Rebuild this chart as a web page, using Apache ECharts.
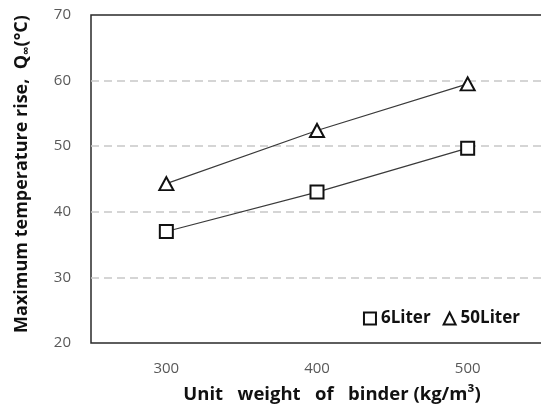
<!DOCTYPE html>
<html>
<head>
<meta charset="utf-8">
<script src="https://cdn.jsdelivr.net/npm/echarts@6/dist/echarts.min.js"></script>
<style>
  html, body { margin: 0; padding: 0; background: #fff; }
  #chart { width: 541px; height: 414px; }
</style>
</head>
<body>
<div id="chart"></div>
<script>
// Unit weight of binder (kg/m3)
const binder = [300, 400, 500];
// Maximum temperature rise (°C) for each specimen volume
const rise6Liter = [37.0, 43.0, 49.7];
const rise50Liter = [44.3, 52.4, 59.5];
const yTicks = [20, 30, 40, 50, 60, 70];

const font = '"Open Sans", "Noto Sans", sans-serif';

const chart = echarts.init(document.getElementById('chart'));

const markerStyle = {
  color: '#ffffff',
  borderColor: '#111111',
  borderWidth: 2
};

chart.setOption({
  animation: false,
  backgroundColor: '#ffffff',
  grid: {
    left: 91,
    top: 15,
    right: -2,
    bottom: 71,
    outerBoundsMode: 'none',
    show: true,
    borderColor: '#2a2a2a',
    borderWidth: 1.5
  },
  legend: {
    right: 16,
    top: 305,
    itemWidth: 12,
    itemHeight: 12,
    itemGap: 12,
    textStyle: { fontFamily: font, fontSize: 17, fontWeight: 'bold', color: '#111' },
    data: [
      { name: '6Liter', icon: 'rect' },
      { name: '50Liter', icon: 'triangle' }
    ]
  },
  xAxis: {
    type: 'value',
    min: 250,
    max: 550,
    interval: 50,
    name: 'Unit   weight   of   binder (kg/m³)',
    nameLocation: 'middle',
    nameGap: 42,
    nameTextStyle: {
      fontFamily: font, fontSize: 18.5, fontWeight: 'bold', color: '#111',
      padding: [0, 0, 0, 30]
    },
    axisLine: { show: false },
    axisTick: { show: false },
    splitLine: { show: false },
    axisLabel: {
      margin: 18,
      fontFamily: font, fontSize: 15, color: '#595959',
      formatter: v => (binder.includes(v) ? String(v) : '')
    }
  },
  yAxis: {
    type: 'value',
    min: yTicks[0],
    max: yTicks[yTicks.length - 1],
    interval: 10,
    name: '{a|Maximum temperature rise,  Q}{sub|∞}{a|(°C)}',
    nameLocation: 'middle',
    nameGap: 58,
    nameTextStyle: {
      padding: [0, 0, 0, 10],
      rich: {
        a: { fontFamily: font, fontSize: 18, fontWeight: 'bold', color: '#111', lineHeight: 22 },
        sub: { fontFamily: font, fontSize: 12, fontWeight: 'bold', color: '#111', lineHeight: 22, verticalAlign: 'bottom' }
      }
    },
    axisLine: { show: false },
    axisTick: { show: false },
    axisLabel: {
      margin: 20,
      fontFamily: font, fontSize: 15, color: '#595959',
      formatter: v => (yTicks.includes(v) ? String(v) : '')
    },
    splitLine: {
      show: true,
      showMinLine: false,
      showMaxLine: false,
      lineStyle: { color: '#c8c8c8', width: 1.5, type: [8, 5] }
    }
  },
  series: [
    {
      name: '6Liter',
      type: 'line',
      data: binder.map((x, i) => [x, rise6Liter[i]]),
      symbol: 'rect',
      symbolSize: 13,
      lineStyle: { color: '#3a3a3a', width: 1.2 },
      itemStyle: markerStyle,
      z: 3
    },
    {
      name: '50Liter',
      type: 'line',
      data: binder.map((x, i) => [x, rise50Liter[i]]),
      symbol: 'triangle',
      symbolSize: [14, 13],
      lineStyle: { color: '#3a3a3a', width: 1.2 },
      itemStyle: markerStyle,
      z: 3
    }
  ]
});
</script>
</body>
</html>
